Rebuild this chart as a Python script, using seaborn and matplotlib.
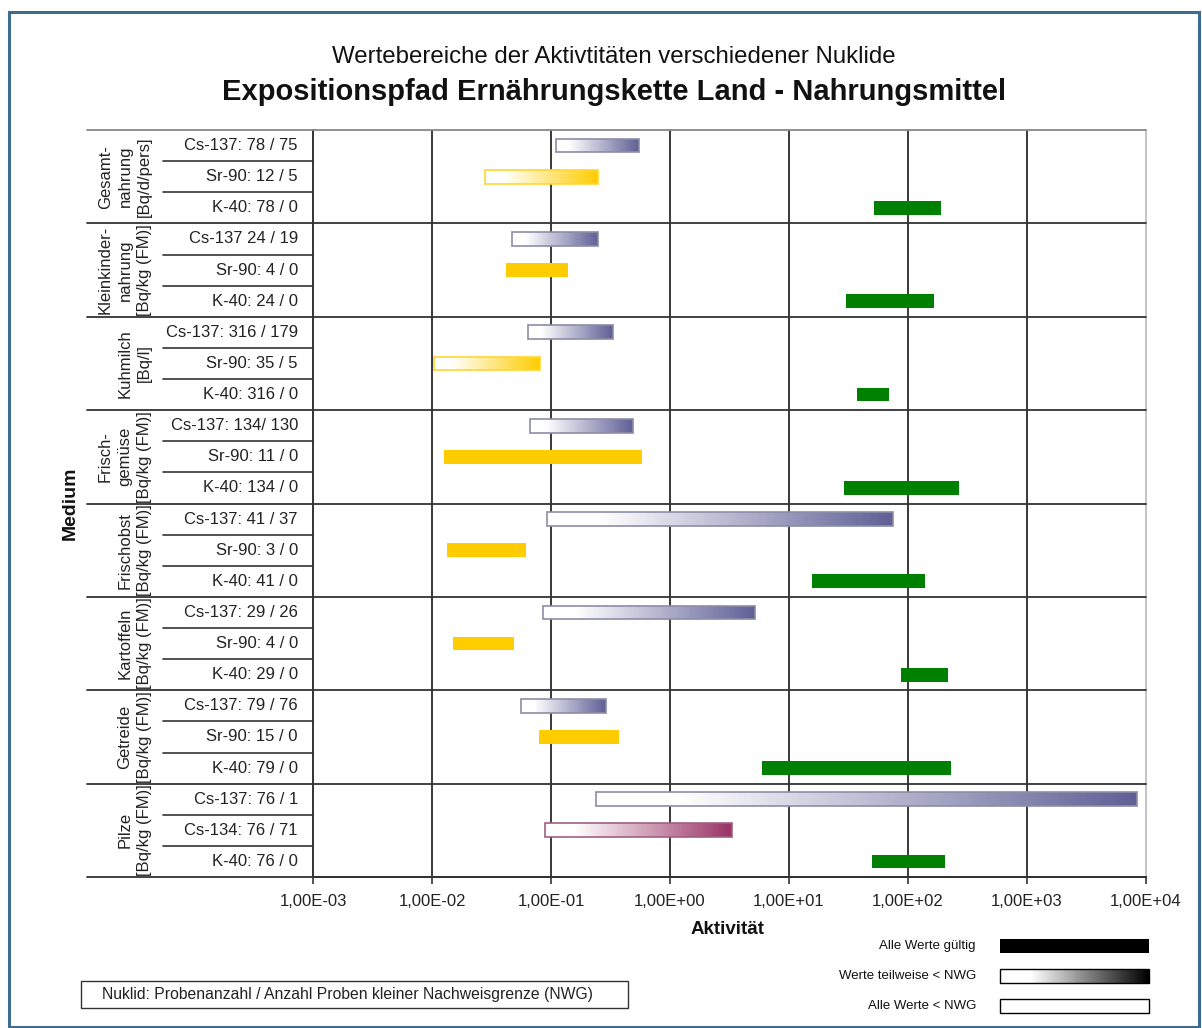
import numpy as np
import matplotlib
matplotlib.use("Agg")
import matplotlib.pyplot as plt
import matplotlib.transforms as mtransforms
from matplotlib.patches import Rectangle
import seaborn as sns

# ---- data ----------------------------------------------------------------
groups = [
    "Gesamt-\nnahrung\n[Bq/d/pers]",
    "Kleinkinder-\nnahrung\n[Bq/kg (FM)]",
    "Kuhmilch\n[Bq/l]",
    "Frisch-\ngemüse\n[Bq/kg (FM)]",
    "Frischobst\n[Bq/kg (FM)]",
    "Kartoffeln\n[Bq/kg (FM)]",
    "Getreide\n[Bq/kg (FM)]",
    "Pilze\n[Bq/kg (FM)]",
]

row_labels = [
    "Cs-137: 78 / 75", "Sr-90: 12 / 5", "K-40: 78 / 0",
    "Cs-137 24 / 19", "Sr-90: 4 / 0", "K-40: 24 / 0",
    "Cs-137: 316 / 179", "Sr-90: 35 / 5", "K-40: 316 / 0",
    "Cs-137: 134/ 130", "Sr-90: 11 / 0", "K-40: 134 / 0",
    "Cs-137: 41 / 37", "Sr-90: 3 / 0", "K-40: 41 / 0",
    "Cs-137: 29 / 26", "Sr-90: 4 / 0", "K-40: 29 / 0",
    "Cs-137: 79 / 76", "Sr-90: 15 / 0", "K-40: 79 / 0",
    "Cs-137: 76 / 1", "Cs-134: 76 / 71", "K-40: 76 / 0",
]

nuclides = [
    "Cs-137", "Sr-90", "K-40",
    "Cs-137", "Sr-90", "K-40",
    "Cs-137", "Sr-90", "K-40",
    "Cs-137", "Sr-90", "K-40",
    "Cs-137", "Sr-90", "K-40",
    "Cs-137", "Sr-90", "K-40",
    "Cs-137", "Sr-90", "K-40",
    "Cs-137", "Cs-134", "K-40",
]

# lowest and highest measured activity per row
act_min = [
    0.11, 0.028, 52,
    0.047, 0.042, 30,
    0.064, 0.0104, 37,
    0.067, 0.0126, 29,
    0.092, 0.0134, 15.6,
    0.086, 0.015, 87,
    0.056, 0.079, 5.9,
    0.24, 0.089, 50,
]
act_max = [
    0.55, 0.25, 189,
    0.25, 0.14, 165,
    0.33, 0.081, 69,
    0.49, 0.58, 268,
    75, 0.062, 139,
    5.2, 0.049, 217,
    0.29, 0.37, 230,
    8400, 3.3, 205,
]

# "valid" = all values valid, "partial" = some values below detection limit
status = [
    "partial", "partial", "valid",
    "partial", "valid", "valid",
    "partial", "partial", "valid",
    "partial", "valid", "valid",
    "partial", "valid", "valid",
    "partial", "valid", "valid",
    "partial", "valid", "valid",
    "partial", "partial", "valid",
]

tick_values = [1e-3, 1e-2, 1e-1, 1e0, 1e1, 1e2, 1e3, 1e4]
tick_labels = ["1,00E-03", "1,00E-02", "1,00E-01", "1,00E+00",
               "1,00E+01", "1,00E+02", "1,00E+03", "1,00E+04"]

legend_labels = ["Alle Werte gültig", "Werte teilweise < NWG", "Alle Werte < NWG"]

nuclide_colors = {"Cs-137": "#5F5F96", "Sr-90": "#FFCC00",
                  "K-40": "#008000", "Cs-134": "#993366"}
edge_colors = {"Cs-137": "#8C8CA8", "Sr-90": "#FFD633",
               "K-40": "#008000", "Cs-134": "#A06080"}

# ---- style ---------------------------------------------------------------
sns.set_theme(style="white")
plt.rcParams["font.family"] = ["Liberation Sans", "DejaVu Sans"]

W, H = 1202, 1028
fig = plt.figure(figsize=(W / 100, H / 100), dpi=100)
fig.patch.set_facecolor("white")

# plot area in pixel coordinates
x0, x1, y0, y1 = 313, 1146, 130, 877
ax = fig.add_axes([x0 / W, 1 - y1 / H, (x1 - x0) / W, (y1 - y0) / H])
ax.set_xscale("log")
ax.set_xlim(1e-3, 1e4)
n_rows = len(row_labels)
ax.set_ylim(n_rows, 0)
ax.set_facecolor("white")


def gradient_colors(color, n, white_part=0.15):
    # white at the left end, then an even blend towards the full colour
    cmap = sns.blend_palette(["white", color], as_cmap=True)
    t = np.linspace(0, 1, n)
    t = np.clip((t - white_part) / (1 - white_part), 0, 1)
    return [cmap(v) for v in t]


def draw_gradient_bar(axis, y, lo, hi, color, edge, height, n=150):
    cols = gradient_colors(color, n)
    edges = np.logspace(np.log10(lo), np.log10(hi), n + 1)
    axis.barh([y] * n, np.diff(edges), left=edges[:-1], height=height,
              color=cols, linewidth=0, antialiased=False, zorder=3)
    axis.barh(y, hi - lo, left=lo, height=height, fill=False,
              edgecolor=edge, linewidth=1.2, zorder=4)


bar_h = 0.44
for i in range(n_rows):
    yc = i + 0.5
    nuc = nuclides[i]
    lo, hi = act_min[i], act_max[i]
    if status[i] == "valid":
        ax.barh(yc, hi - lo, left=lo, height=bar_h,
                color=nuclide_colors[nuc], linewidth=0, zorder=3)
    elif status[i] == "partial":
        draw_gradient_bar(ax, yc, lo, hi, nuclide_colors[nuc],
                          edge_colors[nuc], bar_h)
    else:
        ax.barh(yc, hi - lo, left=lo, height=bar_h, color="white",
                edgecolor=edge_colors[nuc], linewidth=1.2, zorder=3)

# grid and axes frame
ax.set_xticks(tick_values)
ax.set_xticklabels(tick_labels, fontsize=12, color="#222222")
ax.minorticks_off()
ax.set_yticks([])
ax.tick_params(axis="x", which="major", direction="out", length=5,
               width=1.2, color="#333333", pad=7, bottom=True)
for xv in tick_values[1:-1]:
    ax.axvline(xv, color="#2A2A2A", lw=1.3, zorder=1)
for side in ["left", "bottom"]:
    ax.spines[side].set_color("#333333")
    ax.spines[side].set_linewidth(1.4)
ax.spines["right"].set_color("#BBBBBB")
ax.spines["right"].set_linewidth(1.2)
ax.spines["top"].set_visible(False)

# label table on the left
trans = mtransforms.blended_transform_factory(ax.transAxes, ax.transData)
xg = (87 - x0) / (x1 - x0)
xr = (163 - x0) / (x1 - x0)
for g in range(len(groups) + 1):
    yy = g * 3
    col = "#888888" if g == 0 else "#333333"
    ax.plot([xg, 1], [yy, yy], color=col, lw=1.3, transform=trans,
            clip_on=False, zorder=5)
for i in range(1, n_rows):
    if i % 3:
        ax.plot([xr, 0], [i, i], color="#333333", lw=1.2, transform=trans,
                clip_on=False, zorder=5)

x_rowlab = (298 - x0) / (x1 - x0)
for i, lab in enumerate(row_labels):
    ax.text(x_rowlab, i + 0.5, lab, transform=trans, ha="right",
            va="center", fontsize=12, color="#222222")

x_grplab = (152 - x0) / (x1 - x0)
for g, lab in enumerate(groups):
    ax.text(x_grplab, g * 3 + 1.5, lab, transform=trans, rotation=90,
            ha="right", va="center", multialignment="center",
            fontsize=12, color="#222222", linespacing=1.38)

ax.text((70 - x0) / (x1 - x0), 0.5, "Medium", transform=ax.transAxes,
        rotation=90, ha="center", va="center", fontsize=14,
        fontweight="bold", color="#111111")

# titles and axis label
fig.text(614 / W, 1 - 57 / H,
         "Wertebereiche der Aktivtitäten verschiedener Nuklide",
         ha="center", va="center", fontsize=17.3, color="#111111")
fig.text(614 / W, 1 - 92 / H,
         "Expositionspfad Ernährungskette Land - Nahrungsmittel",
         ha="center", va="center", fontsize=21, fontweight="bold",
         color="#111111")
fig.text(728 / W, 1 - 930 / H, "Aktivität", ha="center", va="center",
         fontsize=13.5, fontweight="bold", color="#111111")

# legend for the bar fill styles
lax = fig.add_axes([1000 / W, 1 - 1021 / H, 149 / W, 90 / H])
lax.set_xlim(0, 1)
lax.set_ylim(3, 0)
lax.axis("off")
lh = 0.45
lax.barh(0.5, 1, left=0, height=lh, color="black", linewidth=0,
         clip_on=False)
grad = gradient_colors("black", 150, white_part=0.2)
lx = np.linspace(0, 1, 151)
lax.barh([1.5] * 150, np.diff(lx), left=lx[:-1], height=lh, color=grad,
         linewidth=0, antialiased=False, clip_on=False)
lax.barh(1.5, 1, left=0, height=lh, fill=False, edgecolor="black", lw=1,
         clip_on=False)
lax.barh(2.5, 1, left=0, height=lh, color="white", edgecolor="black", lw=1,
         clip_on=False)
for k, lab in enumerate(legend_labels):
    fig.text(976 / W, 1 - (946 + 30 * k) / H, lab, ha="right", va="center",
             fontsize=9.5, color="#111111")

# explanatory note box
fig.patches.append(Rectangle((81 / W, 1 - 1008 / H), (628 - 81) / W,
                             27 / H, transform=fig.transFigure,
                             facecolor="white", edgecolor="#333333", lw=1))
fig.text(102 / W, 1 - 994 / H,
         "Nuklid: Probenanzahl / Anzahl Proben kleiner Nachweisgrenze (NWG)",
         ha="left", va="center", fontsize=11.3, color="#222222")

# outer frame
fig.patches.append(Rectangle((9 / W, 1 / H), (1199 - 9) / W, (1016 - 1) / H,
                             transform=fig.transFigure, fill=False,
                             edgecolor="#3E6C8C", lw=2.2))

fig.savefig("out.png", dpi=100, facecolor="white")
